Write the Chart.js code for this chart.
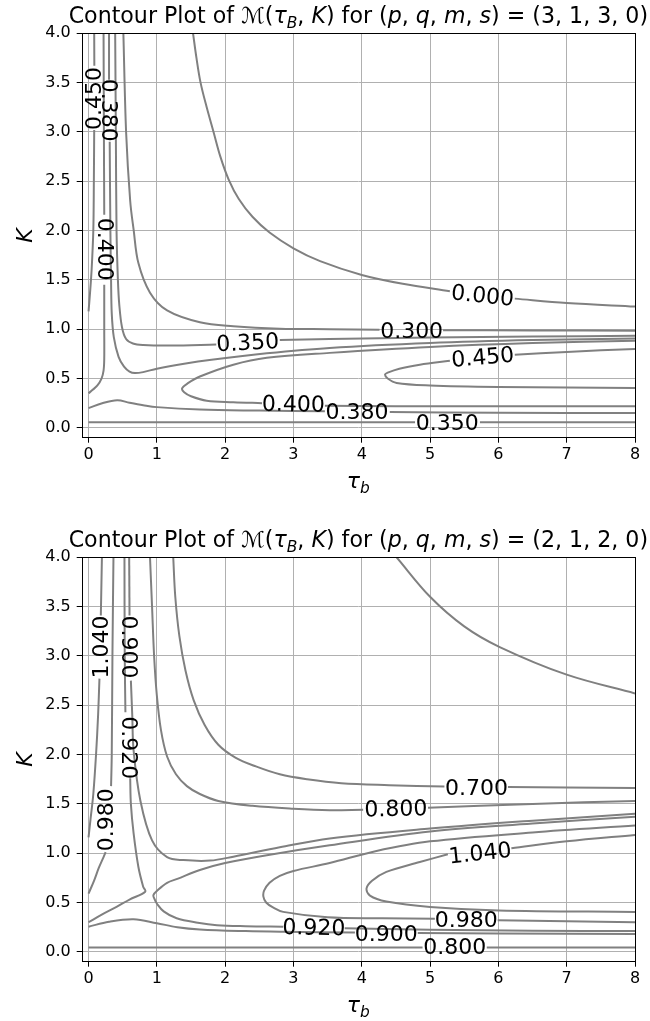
<!DOCTYPE html>
<html>
<head>
<meta charset="utf-8">
<script src="https://cdn.jsdelivr.net/npm/chart.js@4.4.0/dist/chart.umd.min.js"></script>
<style>
  body { margin: 0; background: #fff; }
  #c1 { position: absolute; left: 0; top: 0; }
  #c2 { position: absolute; left: 0; top: 524px; }
</style>
</head>
<body>
<canvas id="c1" width="650" height="524"></canvas>
<canvas id="c2" width="650" height="497"></canvas>
<script>
var xTicks = [0, 1, 2, 3, 4, 5, 6, 7, 8];
var yTicks = [0, 0.5, 1, 1.5, 2, 2.5, 3, 3.5, 4];

// top panel, (p,q,m,s) = (3,1,3,0) -- contour pieces as [tau_b, K], split where labels sit
var t000a = [[1.53,4.0],[1.58,3.75],[1.64,3.5],[1.73,3.25],[1.83,3.0],[1.93,2.75],[2.05,2.52],[2.2,2.32],[2.4,2.14],[2.65,1.98],[3.0,1.82],[3.39,1.69],[4.0,1.55],[4.6,1.46],[5.29,1.385]];
var t000b = [[6.24,1.31],[7.0,1.265],[8.0,1.23]];
var t300a = [[0.51,4.0],[0.55,3.0],[0.61,2.3],[0.66,2.01],[0.73,1.67],[0.9,1.37],[1.15,1.19],[1.63,1.07],[2.12,1.03],[2.8,1.005],[3.53,1.0],[4.26,0.995]];
var t300b = [[5.19,0.99],[6.5,0.988],[8.0,0.985]];
var t350a = [[0.39,4.0],[0.4,3.0],[0.41,2.0],[0.43,1.5],[0.45,1.25],[0.49,1.02],[0.55,0.9],[0.65,0.855],[0.8,0.84],[1.2,0.835],[1.87,0.845]];
var t350b = [[2.8,0.89],[3.53,0.9],[5.0,0.915],[6.5,0.925],[8.0,0.934]];
var t350c = [[0,0.056],[4.78,0.056]];
var t350d = [[5.73,0.056],[8.0,0.056]];
var t380a = [[0.3,4.0],[0.3,3.53]];
var t380b = [[0.31,2.9],[0.32,2.0],[0.33,1.5],[0.34,1.16],[0.37,0.92],[0.44,0.72],[0.52,0.62],[0.6,0.57],[0.68,0.555],[0.8,0.565],[1.0,0.6],[1.4,0.65],[1.8,0.69],[2.61,0.755],[3.53,0.81],[5.0,0.86],[6.5,0.89],[8.0,0.907]];
var t380c = [[0,0.2],[0.2,0.25],[0.42,0.28],[0.6,0.255],[0.8,0.23],[1.0,0.21],[1.63,0.185],[2.5,0.175],[3.46,0.168]];
var t380d = [[4.41,0.16],[6.0,0.153],[8.0,0.15]];
var t400a = [[0.22,4.0],[0.225,3.0],[0.23,2.16]];
var t400b = [[0.23,1.45],[0.23,1.0],[0.23,0.7],[0.22,0.58],[0.19,0.5],[0.13,0.43],[0.06,0.385],[0,0.35]];
var t400c = [[8.0,0.883],[6.5,0.86],[5.0,0.82],[3.53,0.76],[2.61,0.71],[2.12,0.64],[1.63,0.52],[1.45,0.45],[1.37,0.4],[1.4,0.36],[1.5,0.32],[1.73,0.275],[2.12,0.26],[2.54,0.25]];
var t400d = [[3.46,0.225],[4.5,0.22],[6.0,0.218],[8.0,0.218]];
var t450a = [[0.083,4.0],[0.085,3.67]];
var t450b = [[0.083,3.02],[0.078,2.5],[0.07,2.0],[0.045,1.6],[0.02,1.35],[0,1.18]];
var t450c = [[5.29,0.68],[4.85,0.64],[4.55,0.6],[4.38,0.56],[4.34,0.54],[4.38,0.5],[4.51,0.455],[5.0,0.43],[6.0,0.415],[8.0,0.404]];
var t450d = [[6.24,0.74],[7.0,0.77],[8.0,0.8]];

var tLabelText = ['0.000','0.300','0.350','0.450','0.400','0.380','0.350','0.450','0.380','0.400'];
var tLabelTau  = [5.77, 4.73, 2.33, 5.77, 3.0, 3.93, 5.25, 0.07, 0.32, 0.256];
var tLabelK    = [1.35, 0.995, 0.873, 0.725, 0.25, 0.169, 0.062, 3.34, 3.22, 1.81];
var tLabelRot  = [6, 0, -3, -5, 1, 0, 0, -90, 90, 90];

// bottom panel, (p,q,m,s) = (2,1,2,0)
var bOuter = [[4.51,4.0],[5.0,3.6],[5.5,3.3],[6.02,3.09],[7.0,2.81],[8.0,2.62]];
var b700a = [[1.24,4.0],[1.27,3.6],[1.33,3.2],[1.42,2.85],[1.54,2.55],[1.7,2.3],[1.9,2.1],[2.15,1.97],[2.45,1.88],[2.8,1.8],[3.2,1.75],[3.7,1.71],[4.4,1.69],[5.21,1.675]];
var b700b = [[6.14,1.67],[7.0,1.665],[8.0,1.66]];
var b800a = [[0.9,4.0],[0.93,3.5],[0.96,3.0],[1.0,2.6],[1.06,2.25],[1.15,1.98],[1.28,1.8],[1.44,1.68],[1.63,1.6],[1.9,1.53],[2.4,1.48],[3.0,1.45],[3.53,1.435],[4.02,1.44]];
var b800b = [[4.97,1.46],[6.5,1.5],[8.0,1.53]];
var b800c = [[0,0.045],[4.89,0.045]];
var b800d = [[5.83,0.045],[8.0,0.045]];
var b900a = [[0.595,4.0],[0.6,3.41]];
var b900b = [[0.62,2.75],[0.64,2.4],[0.66,2.04],[0.76,1.53],[0.93,1.13],[1.15,0.96],[1.39,0.93],[1.78,0.925],[2.12,0.965],[2.8,1.06],[3.53,1.15],[5.0,1.25],[6.5,1.33],[8.0,1.4]];
var b900c = [[0,0.255],[0.3,0.305],[0.66,0.33],[1.0,0.29],[1.3,0.25],[1.63,0.227],[2.3,0.21],[2.85,0.203],[3.9,0.195]];
var b900d = [[4.82,0.19],[6.0,0.185],[8.0,0.18]];
var b920a = [[0.526,4.0],[0.53,3.0],[0.54,2.43]];
var b920b = [[0.61,1.76],[0.62,1.5],[0.66,1.2],[0.73,0.86],[0.8,0.66],[0.83,0.61],[0.6,0.53],[0.41,0.456],[0.2,0.38],[0,0.3]];
var b920c = [[8.0,1.37],[6.5,1.3],[5.0,1.22],[3.53,1.08],[2.61,0.98],[2.0,0.9],[1.63,0.83],[1.3,0.74],[1.15,0.7],[1.02,0.63],[0.95,0.575],[0.97,0.53],[1.0,0.49],[1.1,0.41],[1.29,0.34],[1.6,0.295],[1.88,0.27],[2.3,0.26],[2.85,0.255]];
var b920d = [[3.75,0.24],[5.0,0.225],[6.5,0.215],[8.0,0.21]];
var b980a = [[0.365,4.0],[0.35,3.0],[0.34,2.0],[0.33,1.68]];
var b980b = [[0.25,1.01],[0.22,0.96],[0.15,0.85],[0.08,0.72],[0,0.59]];
var b980c = [[8.0,1.28],[6.5,1.21],[5.0,1.12],[4.2,1.02],[3.53,0.9],[3.0,0.82],[2.8,0.77],[2.65,0.7],[2.57,0.62],[2.56,0.56],[2.6,0.5],[2.7,0.45],[2.85,0.405],[3.5,0.35],[4.3,0.34],[5.07,0.335]];
var b980d = [[5.99,0.32],[7.0,0.31],[8.0,0.3]];
var b1040a = [[0.196,4.0],[0.18,3.41]];
var b1040b = [[0.16,2.77],[0.14,2.4],[0.11,2.0],[0.07,1.6],[0.03,1.35],[0,1.16]];
var b1040c = [[5.26,0.99],[4.85,0.91],[4.36,0.81],[4.15,0.72],[4.07,0.643],[4.12,0.57],[4.36,0.51],[5.0,0.455],[6.0,0.42],[8.0,0.405]];
var b1040d = [[6.19,1.05],[7.0,1.12],[8.0,1.185]];

var bLabelText = ['1.040','0.900','0.920','0.980','0.700','0.800','1.040','0.920','0.900','0.980','0.800'];
var bLabelTau  = [0.17, 0.61, 0.6, 0.245, 5.68, 4.5, 5.73, 3.3, 4.36, 5.53, 5.36];
var bLabelK    = [3.09, 3.09, 2.07, 1.34, 1.67, 1.46, 1.01, 0.256, 0.195, 0.33, 0.06];
var bLabelRot  = [-90, 90, 90, -90, 0, -1, -6, 1, 0, 0, 0];

var topSegs = [t000a,t000b,t300a,t300b,t350a,t350b,t350c,t350d,t380a,t380b,t380c,t380d,t400a,t400b,t400c,t400d,t450a,t450b,t450c,t450d];
var botSegs = [bOuter,b700a,b700b,b800a,b800b,b800c,b800d,b900a,b900b,b900c,b900d,b920a,b920b,b920c,b920d,b980a,b980b,b980c,b980d,b1040a,b1040b,b1040c,b1040d];

var FONT = '"DejaVu Sans"';

function pieceFont(st, s) {
  return (st === 'i' || st === 'sub' ? 'italic ' : '') + s + 'px ' + FONT;
}

function richWidth(ctx, pieces, size) {
  var w = 0;
  pieces.forEach(function(p) {
    ctx.font = pieceFont(p[1], p[1] === 'sub' ? size * 0.7 : size);
    w += ctx.measureText(p[0]).width;
  });
  return w;
}

// draws a line of mixed normal / italic / subscript text, centred on cx
function drawRich(ctx, pieces, cx, base, size) {
  var x = cx - richWidth(ctx, pieces, size) / 2;
  ctx.textAlign = 'left';
  ctx.textBaseline = 'alphabetic';
  pieces.forEach(function(p) {
    var s = p[1] === 'sub' ? size * 0.7 : size;
    ctx.font = pieceFont(p[1], s);
    ctx.fillText(p[0], x, base + (p[1] === 'sub' ? size * 0.22 : 0));
    x += ctx.measureText(p[0]).width;
  });
}

function titlePieces(nums) {
  return [['Contour Plot of ','n'],['\u2133','n'],['(','n'],['\u03c4','i'],['B','sub'],[', ','n'],['K','i'],[')','n'],
          [' for (','n'],['p','i'],[', ','n'],['q','i'],[', ','n'],['m','i'],[', ','n'],['s','i'],[') = (' + nums + ')','n']];
}

function makeDecor(title, text, tau, k, rot) {
  return {
    id: 'decor',
    afterDatasetsDraw: function(chart) {
      var ctx = chart.ctx, xs = chart.scales.x, ys = chart.scales.y, a = chart.chartArea;
      ctx.save();
      ctx.fillStyle = '#000';
      // inline contour labels
      ctx.font = '22px ' + FONT;
      ctx.textAlign = 'center';
      ctx.textBaseline = 'alphabetic';
      for (var i = 0; i < text.length; i++) {
        ctx.save();
        ctx.translate(xs.getPixelForValue(tau[i]), ys.getPixelForValue(k[i]));
        ctx.rotate(rot[i] * Math.PI / 180);
        ctx.fillText(text[i], 0, 8);
        ctx.restore();
      }
      // frame
      ctx.strokeStyle = '#000';
      ctx.lineWidth = 1;
      ctx.strokeRect(Math.round(a.left) + 0.5, Math.round(a.top) + 0.5, Math.round(a.right - a.left), Math.round(a.bottom - a.top));
      // title, scaled to span the same width as the original
      var cx = (a.left + a.right) / 2;
      var size = 20 * 580 / richWidth(ctx, title, 20);
      drawRich(ctx, title, cx, 22.7, size);
      // axis titles
      ctx.save();
      ctx.translate(31.5, (a.top + a.bottom) / 2);
      ctx.rotate(-Math.PI / 2);
      ctx.font = pieceFont('i', 22);
      ctx.textAlign = 'center';
      ctx.fillText('K', 0, 0);
      ctx.restore();
      drawRich(ctx, [['\u03c4','i'],['b','sub']], cx, 488, 22);
      ctx.restore();
    }
  };
}

function makeChart(id, h, segs, title, text, tau, k, rot) {
  return new Chart(document.getElementById(id), {
    type: 'scatter',
    data: {
      datasets: segs.map(function(s) {
        return {
          data: s.map(function(p) { return { x: p[0], y: p[1] }; }),
          showLine: true,
          borderColor: '#808080',
          borderWidth: 2,
          pointRadius: 0,
          tension: 0.35
        };
      })
    },
    options: {
      responsive: false,
      animation: false,
      events: [],
      layout: { padding: { top: 33.3, right: 15, left: 0, bottom: 0 } },
      plugins: { legend: { display: false }, tooltip: { enabled: false } },
      scales: {
        x: {
          type: 'linear', min: -0.1, max: 8,
          afterBuildTicks: function(ax) { ax.ticks = xTicks.map(function(v) { return { value: v }; }); },
          afterFit: function(ax) { ax.height = h - 437.7; },
          grid: { color: '#b0b0b0', lineWidth: 1, tickLength: 5, tickColor: '#000' },
          border: { display: false },
          ticks: { color: '#000', font: { family: 'DejaVu Sans', size: 16 }, padding: 3, maxRotation: 0,
                   callback: function(v) { return String(v); } }
        },
        y: {
          type: 'linear', min: -0.1, max: 4,
          afterBuildTicks: function(ax) { ax.ticks = yTicks.map(function(v) { return { value: v }; }); },
          afterFit: function(ax) { ax.width = 81.7; },
          grid: { color: '#b0b0b0', lineWidth: 1, tickLength: 5, tickColor: '#000' },
          border: { display: false },
          ticks: { color: '#000', font: { family: 'DejaVu Sans', size: 16 }, padding: 6,
                   callback: function(v) { return Number(v).toFixed(1); } }
        }
      }
    },
    plugins: [makeDecor(title, text, tau, k, rot)]
  });
}

makeChart('c1', 524, topSegs, titlePieces('3, 1, 3, 0'), tLabelText, tLabelTau, tLabelK, tLabelRot);
makeChart('c2', 497, botSegs, titlePieces('2, 1, 2, 0'), bLabelText, bLabelTau, bLabelK, bLabelRot);
</script>
</body>
</html>
